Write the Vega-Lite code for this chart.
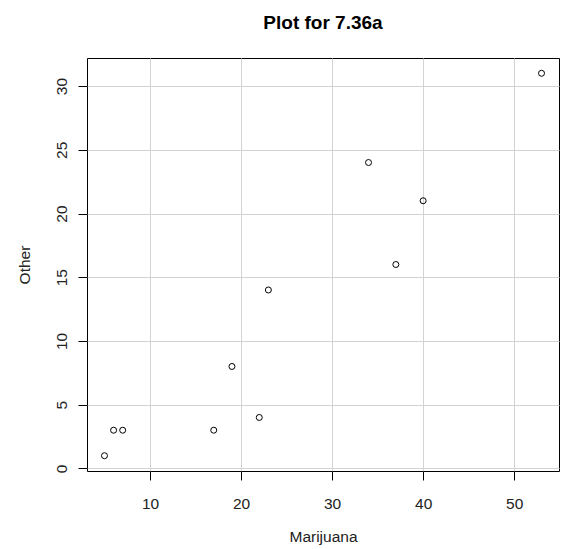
{
  "$schema": "https://vega.github.io/schema/vega-lite/v6.json",
  "width": 472,
  "height": 413,
  "autosize": {"type": "none"},
  "padding": {"left": 87, "top": 58, "right": 6, "bottom": 78},
  "background": "white",
  "title": {
    "text": "Plot for 7.36a",
    "font": "Liberation Sans",
    "fontSize": 19,
    "fontWeight": "bold",
    "color": "black",
    "anchor": "middle",
    "baseline": "alphabetic",
    "offset": 10
  },
  "config": {
    "view": {"stroke": "black", "strokeWidth": 1},
    "axis": {
      "labelFont": "Liberation Sans",
      "labelFontSize": 15.5,
      "labelColor": "#222",
      "titleFont": "Liberation Sans",
      "titleFontSize": 15.5,
      "titleFontWeight": "normal",
      "titleColor": "#222",
      "tickColor": "black",
      "tickSize": 9,
      "tickWidth": 1,
      "domain": false,
      "gridColor": "#d3d3d3",
      "gridWidth": 1
    }
  },
  "data": {
    "values": [
      {"Marijuana": 5, "Other": 1},
      {"Marijuana": 6, "Other": 3},
      {"Marijuana": 7, "Other": 3},
      {"Marijuana": 17, "Other": 3},
      {"Marijuana": 19, "Other": 8},
      {"Marijuana": 22, "Other": 4},
      {"Marijuana": 23, "Other": 14},
      {"Marijuana": 34, "Other": 24},
      {"Marijuana": 37, "Other": 16},
      {"Marijuana": 40, "Other": 21},
      {"Marijuana": 53, "Other": 31}
    ]
  },
  "mark": {"type": "point", "shape": "circle", "filled": false, "stroke": "black", "strokeWidth": 1, "size": 36, "opacity": 1},
  "encoding": {
    "x": {
      "field": "Marijuana",
      "type": "quantitative",
      "scale": {"domain": [3.08, 54.92], "nice": false, "zero": false},
      "axis": {
        "values": [10, 20, 30, 40, 50],
        "labelBaseline": "alphabetic",
        "labelPadding": 28,
        "labelFlush": false,
        "title": "Marijuana",
        "titleBaseline": "alphabetic",
        "titleY": 70
      }
    },
    "y": {
      "field": "Other",
      "type": "quantitative",
      "scale": {"domain": [-0.2, 32.2], "nice": false, "zero": false},
      "axis": {
        "values": [0, 5, 10, 15, 20, 25, 30],
        "labelAngle": 270,
        "labelAlign": "center",
        "labelBaseline": "alphabetic",
        "labelPadding": 12,
        "labelFlush": false,
        "title": "Other",
        "titleBaseline": "alphabetic",
        "titleX": -58,
        "titleAngle": 270
      }
    }
  }
}
